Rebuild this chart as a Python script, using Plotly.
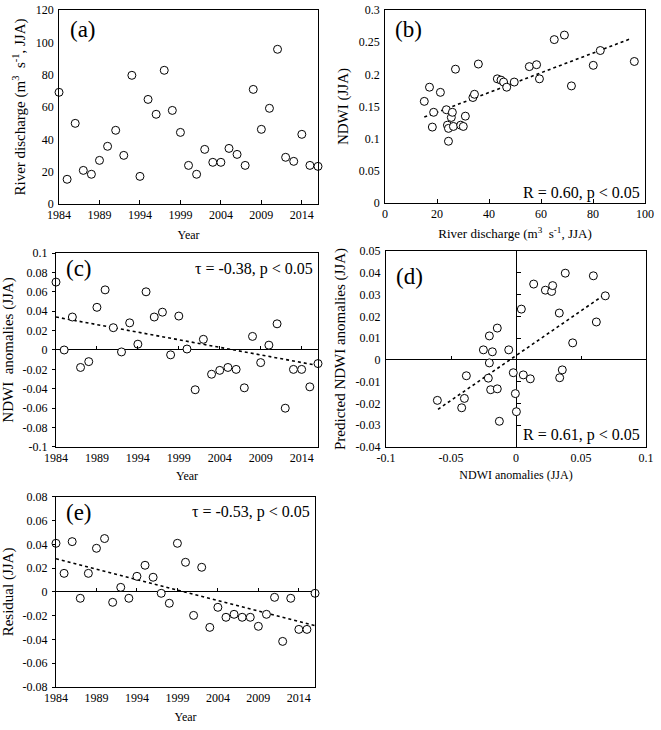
import plotly.graph_objects as go

# years shared by the time-series panels
years = list(range(1984, 2017))

# (a) river discharge, JJA
discharge = [69.1, 15.3, 49.9, 20.8, 18.4, 27.0, 35.7, 45.6, 30.1, 79.6, 17.1,
             64.7, 55.5, 82.7, 57.9, 44.3, 23.9, 18.4, 33.8, 25.8, 25.8, 34.4,
             30.7, 23.9, 70.9, 46.2, 59.2, 95.7, 28.9, 26.4, 43.1, 23.9, 23.3]

# (b) discharge vs NDWI
b_x = [15.1, 17.1, 18.2, 18.7, 21.3, 23.6, 24.0, 24.4, 24.4, 25.5, 25.9, 26.3,
       27.1, 29.1, 30.1, 30.9, 33.8, 34.4, 35.9, 43.2, 44.6, 45.6, 46.8, 49.7,
       55.5, 58.3, 59.4, 65.1, 69.0, 71.7, 80.1, 82.8, 95.9]
b_y = [0.158, 0.180, 0.118, 0.141, 0.172, 0.145, 0.121, 0.116, 0.096, 0.133,
       0.141, 0.119, 0.208, 0.121, 0.119, 0.135, 0.164, 0.169, 0.216, 0.193,
       0.191, 0.188, 0.180, 0.188, 0.212, 0.215, 0.193, 0.254, 0.261, 0.182,
       0.214, 0.237, 0.220]
trend_b_x = [15.1, 94.9]
trend_b_y = [0.1335, 0.256]

# (c) NDWI anomalies
ndwi_anom = [0.070, 0.000, 0.034, -0.018, -0.012, 0.044, 0.062, 0.023, -0.002,
             0.028, 0.006, 0.060, 0.034, 0.039, -0.005, 0.035, 0.001, -0.041,
             0.011, -0.025, -0.021, -0.018, -0.020, -0.039, 0.014, -0.013,
             0.005, 0.027, -0.060, -0.020, -0.020, -0.038, -0.014]
trend_c_x = [1984, 2016]
trend_c_y = [0.034, -0.016]

# (d) observed vs predicted anomalies
d_x = [-0.0605, -0.0418, -0.0397, -0.0382, -0.0251, -0.0205, -0.0205, -0.0213,
       -0.0182, -0.0195, -0.0144, -0.0144, -0.0128, -0.0056, -0.0021, -0.0005,
       0.0003, 0.0041, 0.0056, 0.0110, 0.0136, 0.0226, 0.0274, 0.0282, 0.0333,
       0.0336, 0.0356, 0.0379, 0.0436, 0.0595, 0.0618, 0.0687]
d_y = [-0.0186, -0.0220, -0.0177, -0.0073, 0.0046, 0.0110, -0.0014, -0.0084,
       0.0037, -0.0137, 0.0146, -0.0133, -0.0282, 0.0046, -0.0059, -0.0155,
       -0.0238, 0.0233, -0.0069, -0.0087, 0.0348, 0.0320, 0.0314, 0.0341,
       0.0215, -0.0082, -0.0046, 0.0398, 0.0078, 0.0386, 0.0174, 0.0294]
trend_d_x = [-0.060, 0.068]
trend_d_y = [-0.0227, 0.0299]

# (e) residuals
residual = [0.041, 0.0157, 0.0424, -0.0053, 0.0157, 0.0368, 0.045, -0.0087,
            0.0039, -0.0053, 0.0132, 0.0225, 0.0124, -0.0011, -0.0095, 0.041,
            0.025, -0.0197, 0.0208, -0.0298, -0.0129, -0.0213, -0.0188, -0.0213,
            -0.0213, -0.0289, -0.0188, -0.0045, -0.0416, -0.0053, -0.0315,
            -0.0315, -0.0011]
trend_e_x = [1984, 2016]
trend_e_y = [0.028, -0.0284]

year_ticks = [1984, 1989, 1994, 1999, 2004, 2009, 2014]
ticks_a = [0, 20, 40, 60, 80, 100, 120]
ticks_b_x = [0, 20, 40, 60, 80, 100]
ticks_b_y = [0, 0.05, 0.1, 0.15, 0.2, 0.25, 0.3]
labels_b_y = ["0", "0.05", "0.1", "0.15", "0.2", "0.25", "0.3"]
ticks_c = [-0.1, -0.08, -0.06, -0.04, -0.02, 0, 0.02, 0.04, 0.06, 0.08, 0.1]
labels_c = ["-0.1", "-0.08", "-0.06", "-0.04", "-0.02", "0", "0.02", "0.04", "0.06", "0.08", "0.1"]
ticks_d_x = [-0.1, -0.05, 0, 0.05, 0.1]
labels_d_x = ["-0.1", "-0.05", "0", "0.05", "0.1"]
ticks_d_y = [-0.04, -0.03, -0.02, -0.01, 0, 0.01, 0.02, 0.03, 0.04, 0.05]
labels_d_y = ["-0.04", "-0.03", "-0.02", "-0.01", "0", "0.01", "0.02", "0.03", "0.04", "0.05"]
ticks_e = [-0.08, -0.06, -0.04, -0.02, 0, 0.02, 0.04, 0.06, 0.08]
labels_e = ["-0.08", "-0.06", "-0.04", "-0.02", "0", "0.02", "0.04", "0.06", "0.08"]

FONT = "Liberation Serif"
marker = dict(symbol="circle", size=8, color="white", line=dict(color="black", width=1))
dotted = dict(color="black", width=1.6, dash="dot")

fig = go.Figure()


def pts(x, y, xa, ya):
    fig.add_trace(go.Scatter(x=x, y=y, mode="markers", marker=marker,
                             xaxis=xa, yaxis=ya, showlegend=False, cliponaxis=False))


def line(x, y, xa, ya):
    fig.add_trace(go.Scatter(x=x, y=y, mode="lines", line=dotted,
                             xaxis=xa, yaxis=ya, showlegend=False))


def ghost(x, y, xa, ya):
    # invisible point so that the overlay (zero-line tick) axes get drawn
    fig.add_trace(go.Scatter(x=[x], y=[y], mode="markers", marker=dict(opacity=0),
                             xaxis=xa, yaxis=ya, showlegend=False, hoverinfo="skip"))


line(trend_b_x, trend_b_y, "x2", "y2")
line(trend_c_x, trend_c_y, "x3", "y3")
line(trend_d_x, trend_d_y, "x4", "y4")
line(trend_e_x, trend_e_y, "x5", "y5")
pts(years, discharge, "x", "y")
pts(b_x, b_y, "x2", "y2")
pts(years, ndwi_anom, "x3", "y3")
pts(d_x, d_y, "x4", "y4")
pts(years, residual, "x5", "y5")
ghost(1984, 0, "x6", "y3")
ghost(1984, 0, "x7", "y5")
ghost(0, 0, "x8", "y4")
ghost(0, 0, "x4", "y6")

dom = {
    "a": ([0.0893, 0.4811], [0.7205, 0.9863]),
    "b": ([0.5825, 0.9758], [0.7219, 0.9863]),
    "c": ([0.0847, 0.4811], [0.3877, 0.6534]),
    "d": ([0.5840, 0.9773], [0.3877, 0.6562]),
    "e": ([0.0847, 0.4766], [0.0589, 0.3192]),
}

base = dict(showline=True, mirror=True, linecolor="black", linewidth=1,
            showgrid=False, zeroline=False, ticklen=3, tickwidth=1,
            tickcolor="black", automargin=False,
            tickfont=dict(family=FONT, size=12, color="black"))


def xax(d, rng, tv, tt, title, ticks="inside", standoff=9, **kw):
    a = dict(base, domain=dom[d][0], range=rng, tickvals=tv, ticktext=tt,
             ticks=ticks, title_text=title, title_standoff=standoff,
             title_font=dict(family=FONT, size=12, color="black"))
    a.update(kw)
    return a


def yax(d, rng, tv, tt, title, ticks="outside", standoff=6, **kw):
    a = dict(base, domain=dom[d][1], range=rng, tickvals=tv, ticktext=tt,
             ticks=ticks, title_text=title, title_standoff=standoff,
             ticklabelstandoff=2,
             title_font=dict(family=FONT, size=15, color="black"))
    a.update(kw)
    return a


yr_txt = [str(v) for v in year_ticks]
q_title = "River discharge (m<sup>3</sup>\u00a0 s<sup>-1</sup>, JJA)"

c_zero = dom["c"][1][0] + (dom["c"][1][1] - dom["c"][1][0]) * 0.5
e_zero = dom["e"][1][0] + (dom["e"][1][1] - dom["e"][1][0]) * 0.5
d_zero_y = dom["d"][1][0] + (dom["d"][1][1] - dom["d"][1][0]) * (0.04 / 0.09)
d_zero_x = dom["d"][0][0] + (dom["d"][0][1] - dom["d"][0][0]) * 0.5

overlay = dict(showline=False, showgrid=False, zeroline=False, ticks="inside",
               ticklen=4, tickwidth=1, tickcolor="black", showticklabels=False,
               automargin=False)

fig.update_layout(
    width=661, height=730,
    margin=dict(l=0, r=0, t=0, b=0, pad=0, autoexpand=False),
    paper_bgcolor="white", plot_bgcolor="white",
    font=dict(family=FONT, size=12, color="black"),
    xaxis=xax("a", [1984, 2016], year_ticks, yr_txt, "Year", anchor="y", ticklen=4),
    yaxis=yax("a", [0, 120], ticks_a, [str(v) for v in ticks_a], q_title, anchor="x", ticks=""),
    xaxis2=xax("b", [0, 100], ticks_b_x, [str(v) for v in ticks_b_x], q_title, anchor="y2",
               ticklen=4, standoff=8, title_font_size=13),
    yaxis2=yax("b", [0, 0.3], ticks_b_y, labels_b_y, "NDWI (JJA)", anchor="x2", ticks=""),
    xaxis3=xax("c", [1984, 2016], year_ticks, yr_txt, "Year", anchor="y3", ticks="", standoff=7),
    yaxis3=yax("c", [-0.1, 0.1], ticks_c, labels_c, "NDWI\u00a0 anomalies (JJA)", anchor="x3",
               zeroline=True, zerolinecolor="black", zerolinewidth=1),
    xaxis4=xax("d", [-0.1, 0.1], ticks_d_x, labels_d_x, "NDWI anomalies (JJA)", anchor="y4",
               ticks="", standoff=6, zeroline=True, zerolinecolor="black", zerolinewidth=1),
    yaxis4=yax("d", [-0.04, 0.05], ticks_d_y, labels_d_y, "Predicted NDWI anomalies (JJA)",
               anchor="x4", ticks="", zeroline=True, zerolinecolor="black", zerolinewidth=1),
    xaxis5=xax("e", [1984, 2016], year_ticks, yr_txt, "Year", anchor="y5", ticks="", standoff=8),
    yaxis5=yax("e", [-0.08, 0.08], ticks_e, labels_e, "Residual (JJA)", anchor="x5",
               zeroline=True, zerolinecolor="black", zerolinewidth=1),
    xaxis6=dict(overlay, overlaying="x3", anchor="free", position=c_zero,
                range=[1984, 2016], tickvals=year_ticks, domain=dom["c"][0]),
    xaxis7=dict(overlay, overlaying="x5", anchor="free", position=e_zero,
                range=[1984, 2016], tickvals=year_ticks, domain=dom["e"][0]),
    xaxis8=dict(overlay, overlaying="x4", anchor="free", position=d_zero_y,
                range=[-0.1, 0.1], tickvals=ticks_d_x, domain=dom["d"][0]),
    yaxis6=dict(overlay, overlaying="y4", anchor="free", position=d_zero_x,
                range=[-0.04, 0.05], tickvals=ticks_d_y, domain=dom["d"][1]),
)

ann = []
for key, ax, (px, py) in [("(a)", "", (0.035, 0.90)), ("(b)", "2", (0.03, 0.90)),
                          ("(c)", "3", (0.03, 0.92)), ("(d)", "4", (0.03, 0.87)),
                          ("(e)", "5", (0.03, 0.92))]:
    ann.append(dict(text=key, xref="x%s domain" % ax, yref="y%s domain" % ax,
                    x=px, y=py, xanchor="left", yanchor="middle", showarrow=False,
                    font=dict(family=FONT, size=23, color="black")))

stats = [("R = 0.60, p < 0.05", "2", 0.99, 0.05),
         ("τ = -0.38, p < 0.05", "3", 0.99, 0.92),
         ("R = 0.61, p < 0.05", "4", 0.985, 0.06),
         ("τ = -0.53, p < 0.05", "5", 0.99, 0.92)]
for txt, ax, px, py in stats:
    ann.append(dict(text=txt, xref="x%s domain" % ax, yref="y%s domain" % ax,
                    x=px, y=py, xanchor="right", yanchor="middle", showarrow=False,
                    font=dict(family=FONT, size=16, color="black")))
fig.update_layout(annotations=ann)

# the page body has a default 8px margin that would push the figure off the window
fig.write_html("out.html", config={"displayModeBar": False},
               post_script="document.body.style.margin='0px';")
